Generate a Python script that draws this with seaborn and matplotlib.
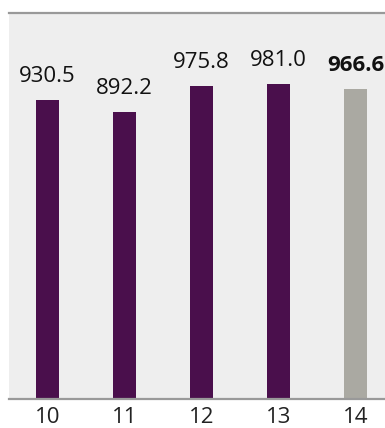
import matplotlib
matplotlib.use("Agg")
import matplotlib.pyplot as plt
import seaborn as sns
import pandas as pd

# Yearly values
years = ["10", "11", "12", "13", "14"]
values = [930.5, 892.2, 975.8, 981.0, 966.6]
bar_colors = ["#4a0f4c", "#4a0f4c", "#4a0f4c", "#4a0f4c", "#aaa9a2"]

sns.set_theme(style="white")
plt.rcParams["font.family"] = ["Open Sans", "DejaVu Sans"]

df = pd.DataFrame({"year": years, "value": values})

fig = plt.figure(figsize=(3.85, 4.28), dpi=100)
ax = fig.add_axes([9 / 385, 29 / 428, 1 - 9 / 385, 386 / 428])
ax.set_facecolor("#eeeeee")

sns.barplot(data=df, x="year", y="value", hue="year", palette=bar_colors,
            width=0.3, legend=False, ax=ax, saturation=1, linewidth=0)

ax.set_xlim(-0.5, 4.383)
ax.set_ylim(0, 1202)

for i, (v, p) in enumerate(zip(values, ax.patches)):
    bold = i == len(values) - 1
    ax.annotate(f"{v:.1f}", xy=(p.get_x() + p.get_width() / 2, p.get_height()),
                xytext=(0, 13), textcoords="offset points",
                ha="center", va="baseline", fontsize=16,
                fontweight="bold" if bold else "normal", color="#111111")

ax.set_xlabel("")
ax.set_ylabel("")
ax.set_yticks([])
ax.tick_params(axis="x", length=0, pad=5.5, labelsize=16, labelcolor="#222222")

for side in ["left", "right"]:
    ax.spines[side].set_visible(False)
for side in ["top", "bottom"]:
    ax.spines[side].set_color("#999999")
    ax.spines[side].set_linewidth(1.6)

fig.savefig("out.png", dpi=100, facecolor="white")
